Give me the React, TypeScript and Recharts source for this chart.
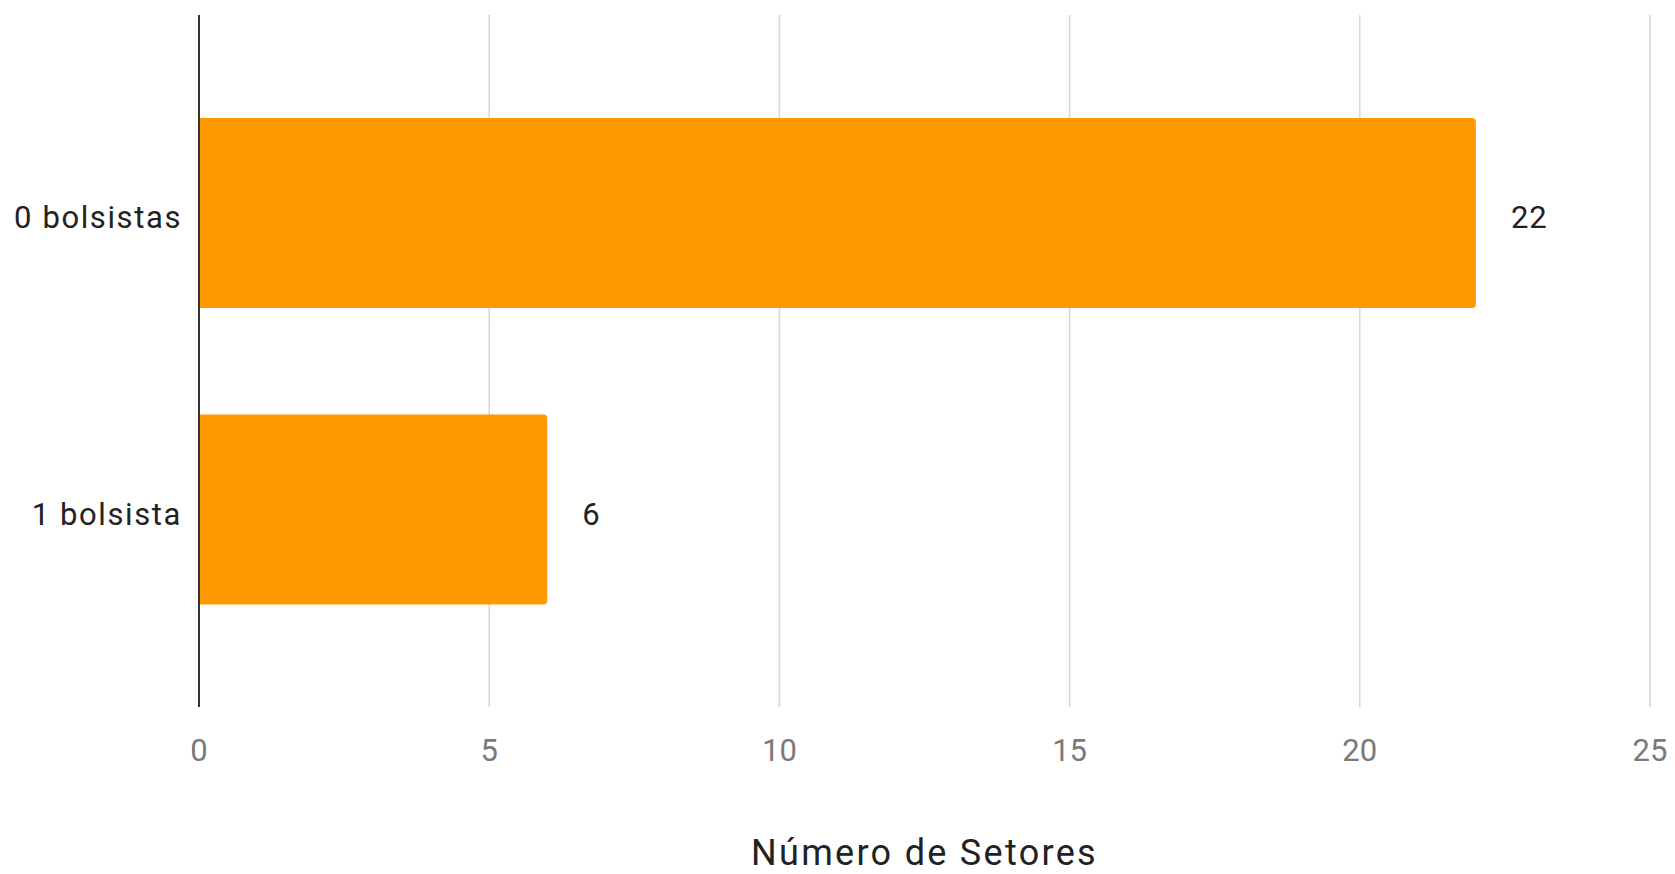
import React from "react";
import { BarChart, Bar, XAxis, YAxis, CartesianGrid, LabelList, Label } from "recharts";

const categories = ["0 bolsistas", "1 bolsista"];
const setores = [22, 6];
const xTicks = [0, 5, 10, 15, 20, 25];
const xTitle = "Número de Setores";

const data = categories.map((c, i) => ({ name: c, value: setores[i] }));

const FONT = "Roboto, 'Noto Sans', sans-serif";

const CategoryTick = (props: any) => {
  const { x, y, payload } = props;
  return (
    <text
      x={x}
      y={y + 4}
      dy="0.355em"
      textAnchor="end"
      fill="#222"
      fontSize={31}
      fontFamily={FONT}
      letterSpacing={1.6}
    >
      {payload.value}
    </text>
  );
};

const ValueLabel = (props: any) => {
  const { x, y, width, height, value } = props;
  return (
    <text
      x={Number(x) + Number(width) + 35}
      y={Number(y) + Number(height) / 2 + 4}
      dy="0.355em"
      textAnchor="start"
      fill="#222"
      fontSize={31}
      fontFamily={FONT}
      letterSpacing={1}
    >
      {value}
    </text>
  );
};

export default function App() {
  return (
    <div style={{ position: "absolute", left: 0, top: 0, background: "#fff" }}>
      <BarChart
        width={1675}
        height={874}
        data={data}
        layout="vertical"
        margin={{ top: 15, right: 25, left: 0, bottom: 0 }}
      >
        <CartesianGrid vertical={true} horizontal={false} stroke="#d6d6d6" strokeWidth={1.5} />
        <XAxis
          type="number"
          domain={[0, 25]}
          ticks={xTicks}
          height={167}
          axisLine={false}
          tickLine={false}
          tickSize={0}
          tickMargin={32}
          tick={{ fill: "#7a7a7a", fontSize: 31, fontFamily: FONT }}
        >
          <Label
            value={xTitle}
            position="insideBottom"
            offset={9}
            style={{ fill: "#222", fontSize: 36, fontFamily: FONT, letterSpacing: 2.3 }}
          />
        </XAxis>
        <YAxis
          type="category"
          dataKey="name"
          width={199}
          padding={{ top: 50, bottom: 49 }}
          axisLine={{ stroke: "#333", strokeWidth: 2 }}
          tickLine={false}
          tickSize={0}
          tickMargin={17}
          tick={<CategoryTick />}
        />
        <Bar dataKey="value" fill="#ff9900" barSize={190} radius={[0, 4, 4, 0]} isAnimationActive={false}>
          <LabelList dataKey="value" content={<ValueLabel />} />
        </Bar>
      </BarChart>
    </div>
  );
}
